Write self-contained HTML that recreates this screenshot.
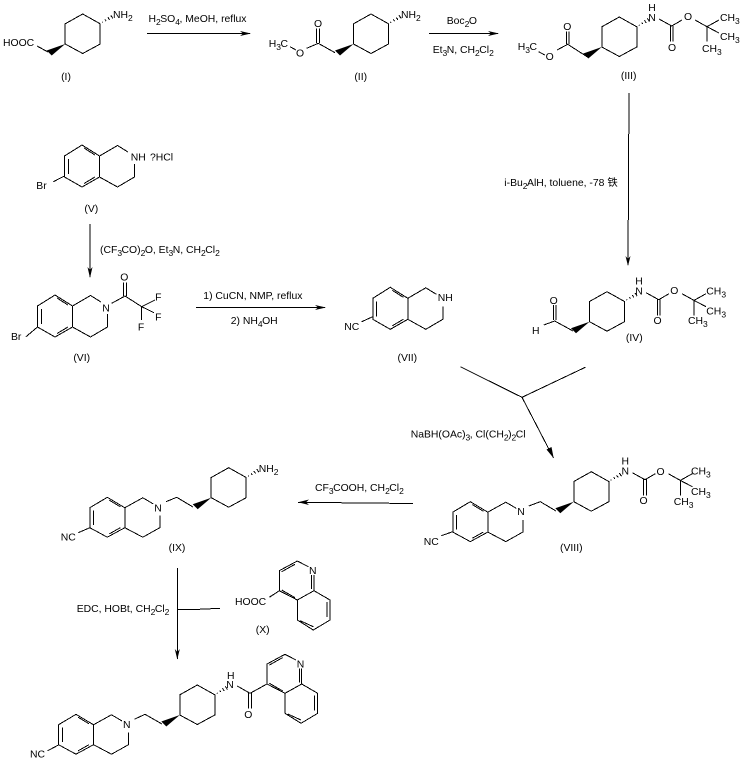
<!DOCTYPE html>
<html><head><meta charset="utf-8"><style>
html,body{margin:0;padding:0;background:#fff}
svg{display:block}
text{font-family:"Liberation Sans","Noto Sans CJK SC",sans-serif;font-size:10.4px;fill:#000}
.m{text-anchor:middle}
.s{font-size:8.5px;letter-spacing:-.5px}
.l{fill:none;stroke:#000;stroke-width:1;shape-rendering:crispEdges}
</style></head><body>
<svg xmlns="http://www.w3.org/2000/svg" width="743" height="766" viewBox="0 0 743 766">
<defs>
<g id="cy"><path class="l" d="M0,0L17.5,9.8V30L0,39.5L-17.5,30V9.8Z"/><polygon points="-17.5,30 -31,41.5 -36,36.5"/>
<path class="l" d="M19.5,7.8l.6,.8M22.4,5.5l1.1,1.6M25.2,3.4l1.7,2.4M28,1.3l2.2,3.2"/></g>
<g id="tq"><path class="l" d="M0,0L17.5,11V32L0,42L-17.5,32V11ZM17.5,11L35.5,.5L46,7M52.5,19V32L35.5,42L17.5,32M-13.7,14V29M2,3L13,10M2,38.5L13,32"/></g>
<g id="bc"><path class="l" d="M7,2L19.7,9L30,3M43,3L55,9.7L67,3M55,9.7L67,16M55,9.7V24.7M18.4,9V24.7M21,9V24.7"/></g>
<g id="qu"><path class="l" d="M0,0L-18,9.7V29.7L0,39L16.7,29.7V14M0,0L11,5.7M14.4,14V28M16.7,29.7L32.7,39V59L16,69L0,59V39M-15.6,10.7L-2.3,3.3M-15.6,29L-2.3,36.7M29.7,41V56M2.7,59.7L16,65.7"/></g>
</defs>

<!-- I -->
<use href="#cy" x="82.7" y="14"/>
<path class="l" d="M48,52L37,46"/>
<text x="3" y="46">HOOC</text>
<text x="113" y="18">NH<tspan class="s" dy="3">2</tspan></text>
<text class="m" x="66" y="80">(I)</text>

<!-- arrow 1 -->
<path class="l" d="M147,33.5H250"/><polygon points="251,33.5 240,31 243,33.5 240,36"/>
<text x="148.5" y="22">H<tspan class="s" dy="3">2</tspan><tspan dy="-3">SO</tspan><tspan class="s" dy="3">4</tspan><tspan dy="-3">, MeOH, reflux</tspan></text>

<!-- II -->
<use href="#cy" x="371" y="14"/>
<path class="l" d="M335,52.7L318.3,43.3L306.7,48.3M290,46.7L296,50M316.7,43V28.3M319.3,43V28.3"/>
<text class="m" x="318" y="27">O</text>
<text class="m" x="300" y="56.5">O</text>
<text x="268.7" y="47">H<tspan class="s" dy="3">3</tspan><tspan dy="-3">C</tspan></text>
<text x="401" y="18">NH<tspan class="s" dy="3">2</tspan></text>
<text class="m" x="360.7" y="80">(II)</text>

<!-- arrow 2 -->
<path class="l" d="M429,33.5H498"/><polygon points="499,33.5 488,31 491,33.5 488,36"/>
<text x="446.7" y="24">Boc<tspan class="s" dy="3">2</tspan><tspan dy="-3">O</tspan></text>
<text x="432.7" y="53">Et<tspan class="s" dy="3">3</tspan><tspan dy="-3">N, CH</tspan><tspan class="s" dy="3">2</tspan><tspan dy="-3">Cl</tspan><tspan class="s" dy="3">2</tspan></text>

<!-- III -->
<use href="#cy" x="619.3" y="17"/>
<path class="l" d="M587,56.7L567.7,44.3L557,50M538.7,51.7L544.7,55M566.4,44V31.7M569,44V31.7"/>
<text class="m" x="567.3" y="30">O</text>
<text class="m" x="549.7" y="60">O</text>
<text x="517.7" y="50">H<tspan class="s" dy="3">3</tspan><tspan dy="-3">C</tspan></text>
<use href="#bc" x="652" y="17"/>
<text class="m" x="652" y="21">N</text><text class="m" x="652" y="11">H</text>
<text class="m" x="672" y="51">O</text><text class="m" x="688" y="20">O</text>
<text x="720" y="21">CH<tspan class="s" dy="3">3</tspan></text>
<text x="720" y="40">CH<tspan class="s" dy="3">3</tspan></text>
<text x="702" y="52">CH<tspan class="s" dy="3">3</tspan></text>
<text class="m" x="628.7" y="79">(III)</text>

<!-- arrow III-IV -->
<path class="l" d="M629,93L628,265"/><polygon points="628,266 625.5,256 628,259 630.5,256"/>
<text x="504.3" y="186">i-Bu<tspan class="s" dy="3">2</tspan><tspan dy="-3">AlH, toluene, -78 </tspan><tspan>铁</tspan></text>

<!-- IV -->
<use href="#cy" x="607" y="291.7"/>
<path class="l" d="M573,331L554.7,321L543.7,325M553.4,320V305M556,320V305"/>
<text class="m" x="553.7" y="304">O</text>
<text class="m" x="535.7" y="334">H</text>
<use href="#bc" x="639" y="290.7"/>
<text class="m" x="639" y="294.7">N</text><text class="m" x="639" y="284.7">H</text>
<text class="m" x="657.5" y="324">O</text><text class="m" x="674.3" y="294">O</text>
<text x="706.3" y="294.7">CH<tspan class="s" dy="3">3</tspan></text>
<text x="706.3" y="314.7">CH<tspan class="s" dy="3">3</tspan></text>
<text x="688" y="324">CH<tspan class="s" dy="3">3</tspan></text>
<text class="m" x="634.3" y="341">(IV)</text>

<!-- V -->
<use href="#tq" x="82" y="145"/>
<path class="l" d="M53.3,181.7L64.5,176"/>
<text x="36.3" y="189">Br</text>
<text x="130.7" y="160.7">NH</text>
<text x="150" y="160.7">?HCl</text>
<text class="m" x="91.3" y="212">(V)</text>

<!-- arrow V-VI -->
<path class="l" d="M90,224V277"/><polygon points="90,278 87.5,267 90,270 92.5,267"/>
<text x="100" y="253">(CF<tspan class="s" dy="3">3</tspan><tspan dy="-3">CO)</tspan><tspan class="s" dy="3">2</tspan><tspan dy="-3">O, Et</tspan><tspan class="s" dy="3">3</tspan><tspan dy="-3">N, CH</tspan><tspan class="s" dy="3">2</tspan><tspan dy="-3">Cl</tspan><tspan class="s" dy="3">2</tspan></text>

<!-- VI -->
<use href="#tq" x="55" y="295"/>
<path class="l" d="M26,336.7L37.5,327M111.7,303.3L125,296L141.7,306.7L155,300M141.7,306.7L154,312.7M141.7,306.7V320M123.7,296V282.7M126.3,296V282.7"/>
<text class="m" x="106" y="311.7">N</text>
<text class="m" x="124.3" y="280.7">O</text>
<text class="m" x="158.3" y="300.7">F</text>
<text class="m" x="158.3" y="320.7">F</text>
<text class="m" x="141" y="330.7">F</text>
<text x="11" y="340">Br</text>
<text class="m" x="81.7" y="361">(VI)</text>

<!-- arrow VI-VII -->
<path class="l" d="M196,307.5H325"/><polygon points="326,307.5 315,305 318,307.5 315,310"/>
<text x="203.3" y="299">1) CuCN, NMP, reflux</text>
<text x="230.7" y="324">2) NH<tspan class="s" dy="3">4</tspan><tspan dy="-3">OH</tspan></text>

<!-- VII -->
<use href="#tq" x="390.3" y="287.3"/>
<path class="l" d="M361.7,321.7L372.7,316.7"/>
<text x="344.3" y="330">NC</text>
<text x="437.7" y="301">NH</text>
<text class="m" x="407.3" y="361">(VII)</text>

<!-- Y arrow -->
<path class="l" d="M460.3,366.7L522,397.3L585.3,367.3M522,397.3L553.5,458"/>
<polygon points="553.7,458.3 546.5,449.5 551.5,447"/>
<text x="410.7" y="437.3">NaBH(OAc)<tspan class="s" dy="3">3</tspan><tspan dy="-3">, Cl(CH</tspan><tspan class="s" dy="3">2</tspan><tspan dy="-3">)</tspan><tspan class="s" dy="3">2</tspan><tspan dy="-3">Cl</tspan></text>

<!-- VIII -->
<use href="#tq" transform="translate(470.3,501.7) scale(1,.95)"/>
<use href="#cy" x="591.3" y="471.7"/>
<path class="l" d="M441.3,535.7L452.7,531.7M528.7,506L540.3,501.7L556,511"/>
<text class="m" x="521" y="515">N</text>
<text x="423.7" y="545">NC</text>
<use href="#bc" x="625.3" y="470.7"/>
<text class="m" x="625.3" y="474.7">N</text><text class="m" x="625.3" y="464.7">H</text>
<text class="m" x="643.5" y="504">O</text><text class="m" x="660.5" y="475">O</text>
<text x="691" y="474.5">CH<tspan class="s" dy="3">3</tspan></text>
<text x="691" y="495">CH<tspan class="s" dy="3">3</tspan></text>
<text x="673.7" y="505">CH<tspan class="s" dy="3">3</tspan></text>
<text class="m" x="571.3" y="551">(VIII)</text>

<!-- arrow VIII-IX -->
<path class="l" d="M298,502.3L413,503.5"/><polygon points="298,502.3 309,499.5 306,502.3 309,505"/>
<text x="315" y="491">CF<tspan class="s" dy="3">3</tspan><tspan dy="-3">COOH, CH</tspan><tspan class="s" dy="3">2</tspan><tspan dy="-3">Cl</tspan><tspan class="s" dy="3">2</tspan></text>

<!-- IX -->
<use href="#tq" transform="translate(107.3,497.3) scale(1,.95)"/>
<use href="#cy" x="228.7" y="467.7"/>
<path class="l" d="M78.3,532.7L89.8,527.7M166,501.7L176.7,497.3L193,507"/>
<text class="m" x="158" y="511.7">N</text>
<text x="60.7" y="540.7">NC</text>
<text x="258.7" y="472">NH<tspan class="s" dy="3">2</tspan></text>
<text class="m" x="177" y="551">(IX)</text>

<!-- arrow IX-final -->
<path class="l" d="M177.3,568V659M177.3,609.3H199L220,608.3"/><polygon points="177.3,659.5 174.8,649 177.3,652 179.8,649"/>
<text x="76.7" y="612">EDC, HOBt, CH<tspan class="s" dy="3">2</tspan><tspan dy="-3">Cl</tspan><tspan class="s" dy="3">2</tspan></text>

<!-- X -->
<use href="#qu" x="297.3" y="561"/>
<path class="l" d="M269.3,597.3L279.3,590.7"/>
<text class="m" x="312.8" y="574">N</text>
<text x="235" y="605">HOOC</text>
<text class="m" x="262.7" y="633">(X)</text>

<!-- final -->
<use href="#tq" transform="translate(76,714.3) scale(1,.95)"/>
<use href="#cy" x="197.3" y="685"/>
<use href="#qu" x="285" y="654.3"/>
<path class="l" d="M47.7,750.7L58.5,745M134.3,719.3L145,714.3L162,724M237.3,686L250,693.3L267,684M248.7,693V708.3M251.3,693V708.3"/>
<text class="m" x="126.7" y="728">N</text>
<text x="30" y="757.3">NC</text>
<text class="m" x="230" y="688">N</text><text class="m" x="230.7" y="679">H</text>
<text class="m" x="248.3" y="718">O</text>
<text class="m" x="300.5" y="667.3">N</text>
</svg>
</body></html>
